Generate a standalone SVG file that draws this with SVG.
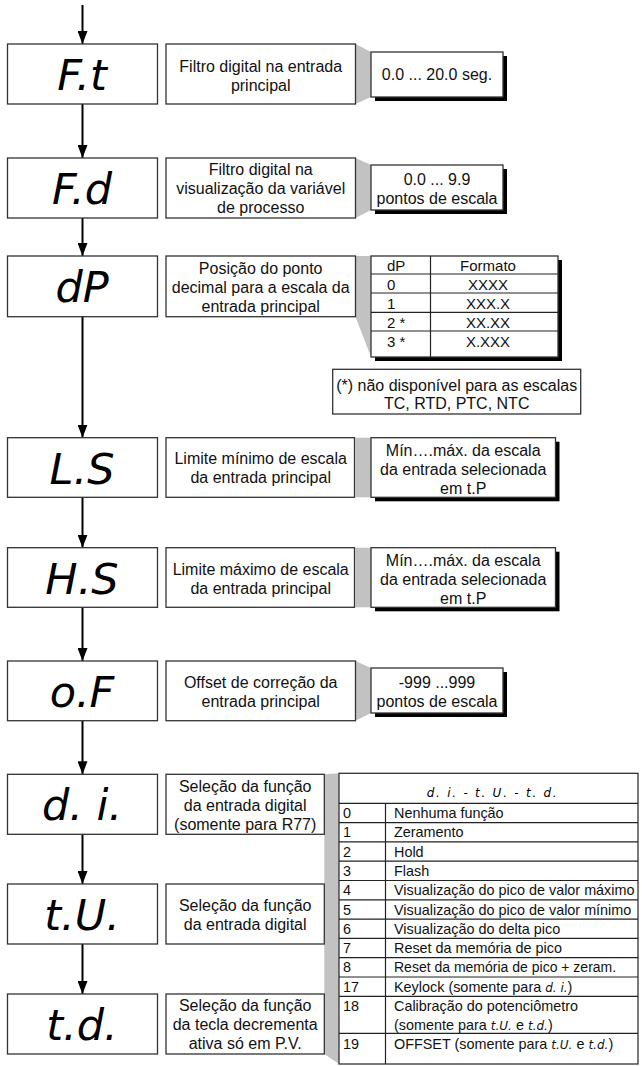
<svg xmlns="http://www.w3.org/2000/svg" width="642" height="1066" viewBox="0 0 642 1066">
<style>
.bg{fill:#fff}
.box{fill:#fff;stroke:#333;stroke-width:1.3}
.sh{fill:#000}
.gray{fill:#c2c2c2}
.ln{stroke:#222;stroke-width:1.2;fill:none}
.arr{stroke:#000;stroke-width:2;fill:none}
.t{font-family:"Liberation Sans",Arial,sans-serif;font-size:16px;fill:#111;text-anchor:middle}
.tl{font-family:"Liberation Sans",Arial,sans-serif;font-size:15px;fill:#111}
.tb{font-family:"Liberation Sans",Arial,sans-serif;font-size:14.4px;fill:#111}
.disp{font-family:"DejaVu Sans",sans-serif;font-style:italic;font-size:43px;fill:#000;text-anchor:middle}
.seg{font-family:"DejaVu Sans",sans-serif;font-style:italic;font-size:12px}
</style>
<defs>
<marker id="ah" markerUnits="userSpaceOnUse" markerWidth="13" markerHeight="10" refX="13" refY="5" orient="auto">
<path d="M0,0 L13,5 L0,10 z" fill="#000"/>
</marker>
</defs>
<rect class="bg" x="0" y="0" width="642" height="1066"/>

<g id="connectors">
<polygon class="gray" points="355.5,44 371,52 371,97 355.5,104"/>
<polygon class="gray" points="355.5,158 371,165 371,210 355.5,218"/>
<polygon class="gray" points="355.5,256 371,256 371,357 355.5,316.7"/>
<rect class="gray" x="355.5" y="437.7" width="15.5" height="59.6"/>
<rect class="gray" x="355.5" y="547.7" width="15.5" height="59.6"/>
<polygon class="gray" points="355.5,661 371,668 371,713 355.5,720.7"/>
<polygon class="gray" points="324.3,774.3 339,773.3 339,1064 324.3,1054"/>
<line class="arr" x1="82.5" y1="5" x2="82.5" y2="44" marker-end="url(#ah)"/>
<line class="arr" x1="82.5" y1="104" x2="82.5" y2="158" marker-end="url(#ah)"/>
<line class="arr" x1="82.5" y1="218" x2="82.5" y2="256" marker-end="url(#ah)"/>
<line class="arr" x1="82.5" y1="316.7" x2="82.5" y2="437.7" marker-end="url(#ah)"/>
<line class="arr" x1="82.5" y1="497.3" x2="82.5" y2="547.7" marker-end="url(#ah)"/>
<line class="arr" x1="82.5" y1="607.3" x2="82.5" y2="661" marker-end="url(#ah)"/>
<line class="arr" x1="82.5" y1="720.7" x2="82.5" y2="774.3" marker-end="url(#ah)"/>
<line class="arr" x1="82.5" y1="834.3" x2="82.5" y2="884" marker-end="url(#ah)"/>
<line class="arr" x1="82.5" y1="944" x2="82.5" y2="994" marker-end="url(#ah)"/>
</g>

<g id="node-Ft">
<rect class="box" x="7.5" y="44" width="150" height="60"/>
<text class="disp" x="82" y="90">F.t</text>
<rect class="box" x="166" y="44" width="189.5" height="60"/>
<text class="t" x="260.7" y="71.5">Filtro digital na entrada</text>
<text class="t" x="260.7" y="90.5">principal</text>
<rect class="sh" x="375" y="56" width="132" height="45"/>
<rect class="box" x="371" y="52" width="132" height="45"/>
<text class="t" x="437" y="80">0.0 ... 20.0 seg.</text>
</g>

<g id="node-Fd">
<rect class="box" x="7.5" y="158" width="150" height="60"/>
<text class="disp" x="82" y="204">F.d</text>
<rect class="box" x="166" y="158" width="189.5" height="60"/>
<text class="t" x="260.7" y="175">Filtro digital na</text>
<text class="t" x="260.7" y="194">visualização da variável</text>
<text class="t" x="260.7" y="213">de processo</text>
<rect class="sh" x="375" y="169" width="132" height="45"/>
<rect class="box" x="371" y="165" width="132" height="45"/>
<text class="t" x="437" y="185">0.0 ... 9.9</text>
<text class="t" x="437" y="204">pontos de escala</text>
</g>

<g id="node-dP">
<rect class="box" x="7.5" y="256" width="150" height="60.7"/>
<text class="disp" x="82" y="302">dP</text>
<rect class="box" x="166" y="256" width="189.5" height="60.7"/>
<text class="t" x="260.7" y="274">Posição do ponto</text>
<text class="t" x="260.7" y="293">decimal para a escala da</text>
<text class="t" x="260.7" y="312">entrada principal</text>
<rect class="sh" x="375" y="260" width="187" height="101"/>
<rect class="box" x="371" y="256" width="187" height="101"/>
<line class="ln" x1="371" y1="274" x2="558" y2="274"/>
<line class="ln" x1="371" y1="293" x2="558" y2="293"/>
<line class="ln" x1="371" y1="312.3" x2="558" y2="312.3"/>
<line class="ln" x1="371" y1="331" x2="558" y2="331"/>
<line class="ln" x1="430.5" y1="256" x2="430.5" y2="357"/>
<text class="tl" x="387" y="270.5">dP</text>
<text class="tl" x="488" y="270.5" text-anchor="middle">Formato</text>
<text class="tl" x="387" y="289.5">0</text>
<text class="tl" x="488" y="289.5" text-anchor="middle">XXXX</text>
<text class="tl" x="387" y="308.5">1</text>
<text class="tl" x="488" y="308.5" text-anchor="middle">XXX.X</text>
<text class="tl" x="387" y="327.5">2 *</text>
<text class="tl" x="488" y="327.5" text-anchor="middle">XX.XX</text>
<text class="tl" x="387" y="346.5">3 *</text>
<text class="tl" x="488" y="346.5" text-anchor="middle">X.XXX</text>
</g>

<g id="note-dP">
<rect class="box" x="332.7" y="369.3" width="248" height="44.7"/>
<text class="t" x="456.7" y="390.5">(*) não disponível para as escalas</text>
<text class="t" x="456.7" y="409">TC, RTD, PTC, NTC</text>
</g>

<g id="node-LS">
<rect class="box" x="7.5" y="437.7" width="150" height="59.6"/>
<text class="disp" x="82" y="484">L.S</text>
<rect class="box" x="166" y="437.7" width="188.5" height="59.6"/>
<text class="t" x="260.7" y="464">Limite mínimo de escala</text>
<text class="t" x="260.7" y="483">da entrada principal</text>
<rect class="sh" x="375" y="441.7" width="184.5" height="59.6"/>
<rect class="box" x="371" y="437.7" width="184.5" height="59.6"/>
<text class="t" x="463.2" y="455.5">Mín….máx. da escala</text>
<text class="t" x="463.2" y="474.5">da entrada selecionada</text>
<text class="t" x="463.2" y="493.5">em t.P</text>
</g>

<g id="node-HS">
<rect class="box" x="7.5" y="547.7" width="150" height="59.6"/>
<text class="disp" x="82" y="594">H.S</text>
<rect class="box" x="166" y="547.7" width="188.5" height="59.6"/>
<text class="t" x="260.7" y="574.5">Limite máximo de escala</text>
<text class="t" x="260.7" y="593.5">da entrada principal</text>
<rect class="sh" x="375" y="551.7" width="184.5" height="59.6"/>
<rect class="box" x="371" y="547.7" width="184.5" height="59.6"/>
<text class="t" x="463.2" y="565.5">Mín….máx. da escala</text>
<text class="t" x="463.2" y="584.5">da entrada selecionada</text>
<text class="t" x="463.2" y="603.5">em t.P</text>
</g>

<g id="node-oF">
<rect class="box" x="7.5" y="661" width="150" height="59.7"/>
<text class="disp" x="82" y="707">o.F</text>
<rect class="box" x="166" y="661" width="189.5" height="59.7"/>
<text class="t" x="260.7" y="687.5">Offset de correção da</text>
<text class="t" x="260.7" y="706.5">entrada principal</text>
<rect class="sh" x="375" y="672" width="132" height="45"/>
<rect class="box" x="371" y="668" width="132" height="45"/>
<text class="t" x="437" y="687.5">-999 ...999</text>
<text class="t" x="437" y="706.5">pontos de escala</text>
</g>

<g id="node-di">
<rect class="box" x="7.5" y="774.3" width="150" height="60"/>
<text class="disp" x="82" y="820">d. i.</text>
<rect class="box" x="166" y="774.3" width="158.3" height="60"/>
<text class="t" x="245.2" y="791.5">Seleção da função</text>
<text class="t" x="245.2" y="810.5">da entrada digital</text>
<text class="t" x="245.2" y="829.5">(somente para R77)</text>
</g>

<g id="node-tU">
<rect class="box" x="7.5" y="884" width="150" height="60"/>
<text class="disp" x="82" y="930">t.U.</text>
<rect class="box" x="166" y="884" width="158.3" height="60"/>
<text class="t" x="245.2" y="910.5">Seleção da função</text>
<text class="t" x="245.2" y="929.5">da entrada digital</text>
</g>

<g id="node-td">
<rect class="box" x="7.5" y="994" width="150" height="60"/>
<text class="disp" x="82" y="1040">t.d.</text>
<rect class="box" x="166" y="994" width="158.3" height="60"/>
<text class="t" x="245.2" y="1010.5">Seleção da função</text>
<text class="t" x="245.2" y="1029.5">da tecla decrementa</text>
<text class="t" x="245.2" y="1048.5">ativa só em P.V.</text>
</g>

<g id="table-functions">
<rect class="box" x="339" y="773.3" width="299" height="290.7"/>
<line class="ln" x1="339" y1="803.3" x2="638" y2="803.3"/>
<line class="ln" x1="385.5" y1="803.3" x2="385.5" y2="1064"/>
<line class="ln" x1="339" y1="822.6" x2="638" y2="822.6"/>
<line class="ln" x1="339" y1="841.9" x2="638" y2="841.9"/>
<line class="ln" x1="339" y1="861.2" x2="638" y2="861.2"/>
<line class="ln" x1="339" y1="880.5" x2="638" y2="880.5"/>
<line class="ln" x1="339" y1="899.8" x2="638" y2="899.8"/>
<line class="ln" x1="339" y1="919.1" x2="638" y2="919.1"/>
<line class="ln" x1="339" y1="938.4" x2="638" y2="938.4"/>
<line class="ln" x1="339" y1="957.7" x2="638" y2="957.7"/>
<line class="ln" x1="339" y1="977" x2="638" y2="977"/>
<line class="ln" x1="339" y1="996.3" x2="638" y2="996.3"/>
<line class="ln" x1="339" y1="1033.3" x2="638" y2="1033.3"/>
<text class="seg" x="491.7" y="797" text-anchor="middle" textLength="130" lengthAdjust="spacing">d. i. - t. U. - t. d.</text>
<text class="tb" x="343" y="818">0</text><text class="tb" x="394" y="818">Nenhuma função</text>
<text class="tb" x="343" y="837.3">1</text><text class="tb" x="394" y="837.3">Zeramento</text>
<text class="tb" x="343" y="856.6">2</text><text class="tb" x="394" y="856.6">Hold</text>
<text class="tb" x="343" y="875.9">3</text><text class="tb" x="394" y="875.9">Flash</text>
<text class="tb" x="343" y="895.2">4</text><text class="tb" x="394" y="895.2">Visualização do pico de valor máximo</text>
<text class="tb" x="343" y="914.5">5</text><text class="tb" x="394" y="914.5">Visualização do pico de valor mínimo</text>
<text class="tb" x="343" y="933.8">6</text><text class="tb" x="394" y="933.8">Visualização do delta pico</text>
<text class="tb" x="343" y="953.1">7</text><text class="tb" x="394" y="953.1">Reset da memória de pico</text>
<text class="tb" x="343" y="972.4">8</text><text class="tb" x="394" y="972.4" style="font-size:14px">Reset da memória de pico + zeram.</text>
<text class="tb" x="343" y="991.7">17</text><text class="tb" x="394" y="991.7">Keylock (somente para <tspan class="seg">d. i.</tspan>)</text>
<text class="tb" x="343" y="1011">18</text><text class="tb" x="394" y="1011">Calibração do potenciômetro</text>
<text class="tb" x="394" y="1030">(somente para <tspan class="seg">t.U.</tspan> e <tspan class="seg">t.d.</tspan>)</text>
<text class="tb" x="343" y="1049">19</text><text class="tb" x="394" y="1049">OFFSET (somente para <tspan class="seg">t.U.</tspan> e <tspan class="seg">t.d.</tspan>)</text>
</g>
</svg>
